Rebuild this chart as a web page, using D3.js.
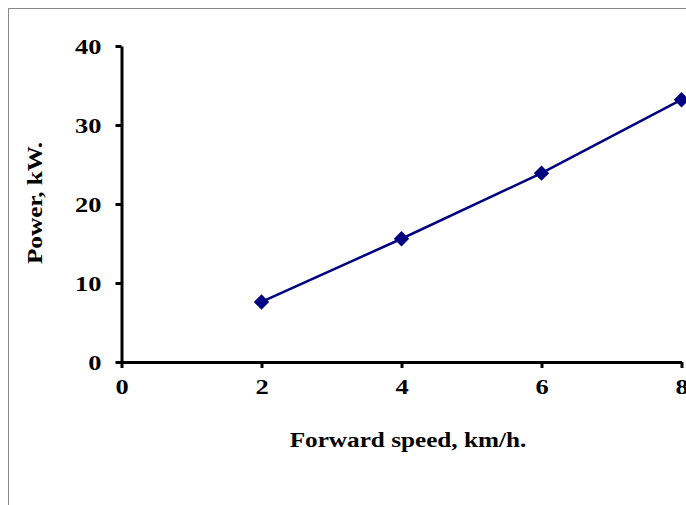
<!DOCTYPE html>
<html><head><meta charset="utf-8">
<script src="https://cdn.jsdelivr.net/npm/d3@7"></script>
<style>html,body{margin:0;padding:0;background:#fff;overflow:hidden}</style>
</head><body>
<svg id="c" width="686" height="505"></svg>
<script>
const speeds = [2, 4, 6, 8];
const power = [7.6, 15.6, 23.9, 33.2];
const xTicks = [0, 2, 4, 6, 8];
const yTicks = [0, 10, 20, 30, 40];

const svg = d3.select("#c");
const font = "'Liberation Serif','Times New Roman',serif";
const FS = "21px";
const TFS = "22px";
const STRETCH = 1.2;

// outer frame
svg.append("rect").attr("x", 8.5).attr("y", 8.5).attr("width", 700).attr("height", 520)
  .attr("fill", "none").attr("stroke", "#888").attr("stroke-width", 1);

const x = d3.scaleLinear().domain([0, 8]).range([121.5, 681.5]);
const y = d3.scaleLinear().domain([0, 40]).range([362, 46]);

const xAxis = svg.append("g").attr("transform", "translate(0,362)")
  .call(d3.axisBottom(x).tickValues(xTicks).tickSize(6).tickSizeOuter(0).tickPadding(10));
const yAxis = svg.append("g").attr("transform", "translate(121.5,0)")
  .call(d3.axisLeft(y).tickValues(yTicks).tickSize(6).tickSizeOuter(0).tickPadding(14));

[xAxis, yAxis].forEach(a => {
  a.select(".domain").attr("stroke", "#000").attr("stroke-width", 3);
  a.selectAll(".tick line").attr("stroke", "#000").attr("stroke-width", 3);
  a.selectAll(".tick text").attr("fill", "#000").style("font-family", font)
    .style("font-weight", "bold").style("font-size", TFS);
});

const data = speeds.map((s, i) => ({s, p: power[i]}));
const line = d3.line().x(d => x(d.s)).y(d => y(d.p));
svg.append("path").datum(data).attr("d", line)
  .attr("fill", "none").attr("stroke", "#000080").attr("stroke-width", 2.5);

svg.selectAll(".m").data(data).enter().append("path")
  .attr("transform", d => `translate(${x(d.s)},${y(d.p)})`)
  .attr("d", d3.symbol().type(d3.symbolDiamond2 || d3.symbolDiamond).size(150))
  .attr("fill", "#000080");

svg.append("text").attr("x", 408).attr("y", 447).attr("text-anchor", "middle")
  .style("font-family", font).style("font-weight", "bold").style("font-size", FS)
  .text("Forward speed, km/h.");

svg.append("text").attr("transform", "translate(42,203) rotate(-90)").attr("text-anchor", "middle")
  .style("font-family", font).style("font-weight", "bold").style("font-size", FS)
  .text("Power, kW.");

// stretch glyphs horizontally to match the wide bold serif look
svg.selectAll("text").each(function() {
  const len = this.getComputedTextLength();
  d3.select(this).attr("textLength", len * STRETCH).attr("lengthAdjust", "spacingAndGlyphs");
});
</script>
</body></html>
